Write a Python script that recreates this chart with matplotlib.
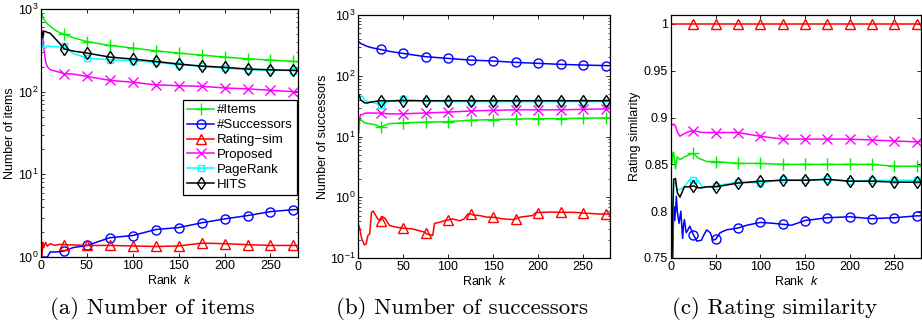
import matplotlib
matplotlib.use("Agg")
import matplotlib.pyplot as plt
from matplotlib.ticker import LogLocator, FixedLocator, NullFormatter

plt.rcParams['font.family'] = ['Liberation Sans', 'DejaVu Sans']
plt.rcParams['mathtext.fontset'] = 'custom'
plt.rcParams['mathtext.rm'] = 'Liberation Sans'
plt.rcParams['mathtext.it'] = 'Liberation Sans:italic'
plt.rcParams['mathtext.default'] = 'regular'

labels = ['#Items', '#Successors', 'Rating\u2212sim', 'Proposed', 'PageRank', 'HITS']

# ---------------- Panel (a): Number of items ----------------
k_a = [1, 2, 3, 5, 7, 10, 15, 20, 25, 35, 50, 75, 100, 125, 150, 175, 200, 225, 250, 275, 280]
items_a = [890, 800, 750, 700, 660, 620, 560, 520, 496, 450, 404, 362, 337, 312, 293, 277, 262, 250, 241, 232, 230]
succ_a = [1.0, 1.0, 1.0, 1.0, 1.0, 1.15, 1.15, 1.16, 1.18, 1.3, 1.38, 1.71, 1.82, 2.15, 2.27, 2.59, 2.89, 3.17, 3.54, 3.74, 3.76]
rating_a = [1.0, 1.5, 1.3, 1.5, 1.35, 1.45, 1.38, 1.42, 1.41, 1.40, 1.38, 1.38, 1.36, 1.34, 1.36, 1.47, 1.45, 1.41, 1.38, 1.38, 1.38]
proposed_a = [550, 450, 350, 230, 200, 185, 178, 172, 165, 163, 153, 137, 130, 121, 118, 116, 111, 108, 104, 100, 100]
pagerank_a = [390, 340, 350, 337, 360, 352, 352, 345, 352, 290, 255, 243, 237, 226, 212, 202, 193, 184, 181, 180, 179]
hits_a = [530, 450, 540, 533, 520, 510, 444, 387, 330, 310, 293, 262, 248, 232, 216, 204, 197, 188, 184, 181, 180]

# ---------------- Panel (b): Number of successors ----------------
k_b = [1, 2, 3, 5, 7, 10, 15, 20, 25, 35, 50, 75, 100, 125, 150, 175, 200, 225, 250, 275, 280]
items_b = [11.5, 19, 19, 17.9, 16.8, 16.5, 16, 15.5, 14.3, 16.3, 16.8, 17.2, 17.6, 18.5, 19, 19.4, 19.6, 19.7, 20, 20.2, 20.2]
succ_b = [362, 350, 340, 330, 320, 305, 290, 280, 271, 252, 233, 206, 193, 181, 175, 166, 160, 154, 150, 147, 146]
proposed_b = [17, 20, 23, 23, 24, 24.4, 24.4, 24.2, 24.4, 23.5, 23.6, 24.4, 25.2, 26.3, 27, 27.5, 27.5, 27.5, 28, 28.5, 28.5]
pagerank_b = [48, 47, 45, 46, 40, 38, 37, 35, 33.4, 38, 41, 38, 37.5, 37.5, 37.5, 37.5, 37.5, 37.5, 37.5, 37.5, 37.5]
hits_b = [48.6, 45, 40, 38, 36, 35.5, 37, 38, 38.8, 38.5, 38.8, 38.8, 38.8, 38.8, 38.8, 38.8, 38.8, 38.8, 38.8, 38.8, 38.8]
k_rb = [1, 2, 4, 7, 9, 11, 13, 15, 17, 19, 22, 25, 27, 30, 35, 43, 50, 61, 74, 75, 76, 83, 85, 91, 98, 100,
        105, 113, 118, 122, 125, 128, 135, 143, 150, 161, 172, 175, 180, 194, 198, 200, 213, 225, 239, 250, 268, 275, 280]
rating_b = [0.34, 0.30, 0.21, 0.165, 0.17, 0.235, 0.25, 0.565, 0.59, 0.52, 0.44, 0.41, 0.48, 0.45, 0.342, 0.32, 0.31,
            0.30, 0.266, 0.26, 0.25, 0.235, 0.37, 0.39, 0.42, 0.423, 0.44, 0.41, 0.44, 0.53, 0.53, 0.51, 0.50, 0.47,
            0.47, 0.44, 0.43, 0.44, 0.47, 0.50, 0.565, 0.56, 0.57, 0.565, 0.565, 0.55, 0.53, 0.53, 0.53]

# ---------------- Panel (c): Rating similarity ----------------
k_c = [1, 2, 3, 5, 7, 10, 15, 20, 25, 30, 35, 40, 50, 75, 100, 125, 150, 175, 200, 225, 250, 275, 280]
rating_c = [1.0] * 23
proposed_c = [0.893, 0.892, 0.893, 0.891, 0.885, 0.880, 0.883, 0.885, 0.886, 0.885, 0.884, 0.884, 0.884, 0.884,
              0.880, 0.877, 0.877, 0.877, 0.877, 0.876, 0.875, 0.874, 0.874]
items_c = [0.851, 0.862, 0.863, 0.845, 0.858, 0.855, 0.858, 0.860, 0.862, 0.857, 0.855, 0.853, 0.853, 0.851,
           0.851, 0.850, 0.850, 0.850, 0.850, 0.850, 0.848, 0.848, 0.848]
hits_c = [0.74, 0.80, 0.834, 0.835, 0.82, 0.815, 0.826, 0.826, 0.827, 0.825, 0.825, 0.826, 0.826, 0.830,
          0.832, 0.833, 0.833, 0.834, 0.832, 0.832, 0.831, 0.831, 0.831]
pagerank_c = [0.74, 0.79, 0.83, 0.83, 0.823, 0.823, 0.826, 0.833, 0.833, 0.833, 0.826, 0.826, 0.827, 0.831,
              0.830, 0.834, 0.833, 0.834, 0.832, 0.833, 0.833, 0.833, 0.833]
k_sc = [1, 2, 3, 4, 5, 6, 7, 9, 11, 13, 14, 15, 17, 19, 21, 25, 29, 34, 37, 40, 44, 47, 50, 55, 62, 75, 85,
        100, 115, 125, 135, 150, 175, 200, 225, 250, 275, 280]
succ_c = [0.70, 0.75, 0.805, 0.79, 0.80, 0.816, 0.80, 0.787, 0.80, 0.771, 0.785, 0.791, 0.777, 0.78, 0.784,
          0.775, 0.768, 0.769, 0.775, 0.780, 0.777, 0.769, 0.770, 0.777, 0.780, 0.782, 0.785, 0.788, 0.787,
          0.786, 0.785, 0.790, 0.793, 0.794, 0.792, 0.793, 0.795, 0.795]

captions = ['(a) Number of items', '(b) Number of successors', '(c) Rating similarity']
ylabels = ['Number of items', 'Number of successors', 'Rating similarity']

styles = [
    dict(color='#00f000', marker='+'),
    dict(color='#0000ff', marker='o'),
    dict(color='#ff0000', marker='^'),
    dict(color='#ff00ff', marker='x'),
    dict(color='#00ffff', marker='s'),
    dict(color='#000000', marker='d'),
]

W, H = 922, 328
fig = plt.figure(figsize=(W / 100, H / 100), dpi=100)


def add_axes_px(left, top, right, bottom):
    return fig.add_axes([left / W, 1 - bottom / H, (right - left) / W, (bottom - top) / H])


axA = add_axes_px(41, 9, 298, 257)
axB = add_axes_px(358, 15, 610, 258)
axC = add_axes_px(671, 15, 921, 258)


def marks(ks):
    return [i for i, k in enumerate(ks) if k % 25 == 0]


def draw(ax, series):
    handles = []
    for (ks, vals), st, lab in zip(series, styles, labels):
        ms = {'+': 8, 'x': 7, 's': 5, 'd': 6.5, '^': 6.5, 'o': 6.5}[st['marker']]
        h, = ax.plot(ks, vals, color=st['color'], marker=st['marker'], markevery=marks(ks),
                     markersize=ms, markerfacecolor='none', markeredgecolor=st['color'],
                     markeredgewidth=1.0, linewidth=1.1, label=lab)
        handles.append(h)
    return handles


hA = draw(axA, [(k_a, items_a), (k_a, succ_a), (k_a, rating_a), (k_a, proposed_a), (k_a, pagerank_a), (k_a, hits_a)])
draw(axB, [(k_b, items_b), (k_b, succ_b), (k_rb, rating_b), (k_b, proposed_b), (k_b, pagerank_b), (k_b, hits_b)])
draw(axC, [(k_c, items_c), (k_sc, succ_c), (k_c, rating_c), (k_c, proposed_c), (k_c, pagerank_c), (k_c, hits_c)])

axA.set_yscale('log')
axA.set_ylim(1, 1000)
axB.set_yscale('log')
axB.set_ylim(0.1, 1000)
axC.set_ylim(0.75, 1.0095)
axC.yaxis.set_major_locator(FixedLocator([0.75, 0.8, 0.85, 0.9, 0.95, 1.0]))
axC.set_yticklabels(['0.75', '0.8', '0.85', '0.9', '0.95', '1'])

for ax in (axA, axB):
    ax.yaxis.set_major_locator(LogLocator(base=10, numticks=10))
    ax.yaxis.set_minor_locator(LogLocator(base=10, subs=range(2, 10), numticks=20))
    ax.yaxis.set_minor_formatter(NullFormatter())

for ax, yl, ylx in zip((axA, axB, axC), ylabels, (-0.097, -0.115, -0.12)):
    ax.set_xlim(0, 280)
    ax.set_xticks([0, 50, 100, 150, 200, 250])
    ax.tick_params(which='major', direction='in', length=3, width=0.6, labelsize=9,
                   top=True, right=True, pad=2, colors='black')
    ax.tick_params(which='minor', direction='in', length=1.8, width=0.5, top=True, right=True)
    for sp in ax.spines.values():
        sp.set_linewidth(0.9)
    ax.set_xlabel(r'Rank  $\mathit{k}$', fontsize=9)
    ax.set_ylabel(yl, fontsize=9)
    ax.yaxis.set_label_coords(ylx, 0.5)
    ax.xaxis.set_label_coords(0.5, -0.068)

leg = axA.legend(handles=hA, loc='upper right', bbox_to_anchor=(0.995, 0.632), fontsize=9.5,
                 frameon=True, fancybox=False, edgecolor='black', framealpha=1, numpoints=1,
                 handlelength=2.0, handletextpad=0.25, labelspacing=0.2, borderpad=0.3,
                 borderaxespad=0)
leg.get_frame().set_linewidth(0.9)

for cx, cap in zip((152, 462, 775), captions):
    fig.text(cx / W, 1 - 308 / H, cap, ha='center', va='center', fontsize=16.5, family='cmr10')

fig.savefig('out.png', dpi=100)
